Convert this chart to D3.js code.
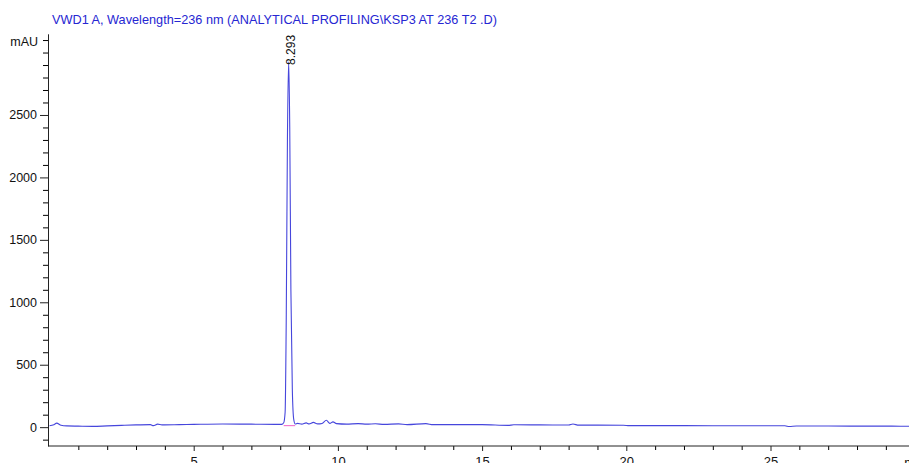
<!DOCTYPE html>
<html>
<head>
<meta charset="utf-8">
<title>VWD1 A chromatogram</title>
<script src="https://d3js.org/d3.v7.min.js"></script>
<style>
  body { margin: 0; background: #fff; }
  svg { display: block; font-family: "Liberation Sans", Arial, sans-serif; }
</style>
</head>
<body>
<div id="chart"></div>
<script>
  // retention time (min) and signal (mAU)
  const times = [0, 0.15, 0.25, 0.4, 0.6, 1.0, 1.5, 2.0, 2.5, 3.0, 3.5, 3.6, 3.75, 3.9, 4.5,
    5.0, 6.0, 7.0, 7.8, 8.05, 8.12, 8.17, 8.21, 8.25, 8.293, 8.33, 8.37, 8.42, 8.47, 8.52,
    8.6, 8.75, 8.9, 9.0, 9.15, 9.3, 9.45, 9.6, 9.72, 9.83, 9.95, 10.3, 10.7, 11.0, 11.3,
    11.6, 12.1, 12.4, 13.05, 13.3, 14.0, 15.0, 15.9, 16.1, 17.0, 18.0, 18.15, 18.35, 19.0,
    19.9, 20.1, 22.0, 24.0, 25.5, 25.65, 25.9, 27.0, 28.5, 29.2, 30.0];
  const signal = [12, 20, 32, 15, 10, 8, 6, 10, 14, 18, 20, 12, 24, 18, 20,
    22, 25, 24, 22, 22, 35, 120, 900, 2300, 2925, 2400, 1100, 300, 60, 25,
    30, 24, 34, 26, 38, 26, 30, 55, 30, 42, 28, 24, 28, 24, 27,
    22, 26, 20, 28, 20, 20, 20, 14, 19, 18, 17, 25, 16, 16,
    15, 12, 12, 11, 11, 5, 9, 9, 8, 8, 7];

  const peakTime = 8.293;
  const peakLabel = "8.293";
  const peakHeight = 2925;
  const integStart = 8.12, integEnd = 8.52, integLevel = 12;

  const xMajor = [5, 10, 15, 20, 25];
  const yMajor = [0, 500, 1000, 1500, 2000, 2500];

  const title = "VWD1 A, Wavelength=236 nm (ANALYTICAL PROFILING\\KSP3 AT 236 T2 .D)";

  const width = 909, height = 463;

  const x = d3.scaleLinear().domain([0, 30]).range([49.5, 914.7]);
  const y = d3.scaleLinear().domain([-150, 3150]).range([445.9, 33.8]);

  const svg = d3.select('#chart')
    .append('svg')
    .attr('width', width)
    .attr('height', height);

  svg.append('text')
    .attr('x', 52)
    .attr('y', 24)
    .attr('fill', '#2626d2')
    .attr('font-size', 12.7)
    .attr('textLength', 445)
    .text(title);

  /* y axis */
  const yMinor = d3.range(-100, 3150, 100).filter(v => v % 500 !== 0 || v === 3000);
  svg.append('g')
    .attr('transform', 'translate(48,0)')
    .call(d3.axisLeft(y).tickValues(yMinor).tickSize(5).tickFormat(''))
    .call(g => g.select('.domain').remove());

  const yAx = svg.append('g')
    .attr('transform', 'translate(48,0)')
    .call(d3.axisLeft(y).tickValues(yMajor).tickSize(8).tickPadding(3)
      .tickSizeOuter(0).tickFormat(d3.format('d')));
  yAx.selectAll('text').attr('font-size', 12.5).attr('fill', '#111').attr('font-family', null);
  yAx.select('.domain').attr('stroke', '#222');
  yAx.selectAll('.tick line').attr('stroke', '#222');

  svg.append('text')
    .attr('x', 38)
    .attr('y', 46)
    .attr('text-anchor', 'end')
    .attr('font-size', 12.5)
    .attr('fill', '#111')
    .text('mAU');

  /* x axis */
  const xMinor = d3.range(1, 30).filter(v => v % 5 !== 0);
  svg.append('g')
    .attr('transform', 'translate(0,446)')
    .call(d3.axisBottom(x).tickValues(xMinor).tickSize(4).tickFormat(''))
    .call(g => g.select('.domain').remove());

  const xAx = svg.append('g')
    .attr('transform', 'translate(0,446)')
    .call(d3.axisBottom(x).tickValues(xMajor).tickSize(5).tickPadding(6).tickSizeOuter(0));
  xAx.selectAll('text').attr('font-size', 13).attr('fill', '#111').attr('font-family', null);
  xAx.select('.domain').attr('d', `M48,0H${width}`).attr('stroke', '#222');
  xAx.selectAll('.tick line').attr('stroke', '#222');

  svg.append('text')
    .attr('x', x(30))
    .attr('y', 467)
    .attr('text-anchor', 'middle')
    .attr('font-size', 13)
    .attr('fill', '#111')
    .text('min');

  /* trace */
  const data = times.map((t, i) => ({ t: t, v: signal[i] }));

  const line = d3.line()
    .x(d => x(d.t))
    .y(d => y(d.v))
    .curve(d3.curveMonotoneX);

  svg.append('path')
    .datum(data)
    .attr('fill', 'none')
    .attr('stroke', '#4646dc')
    .attr('stroke-width', 1.1)
    .attr('d', line);

  // integration baseline
  svg.append('line')
    .attr('x1', x(integStart))
    .attr('x2', x(integEnd))
    .attr('y1', y(integLevel))
    .attr('y2', y(integLevel))
    .attr('stroke', '#f060c8')
    .attr('stroke-width', 1);

  // peak label
  svg.append('text')
    .attr('transform', `translate(${x(peakTime) + 6},${y(peakHeight) + 3}) rotate(-90)`)
    .attr('font-size', 12)
    .attr('fill', '#111')
    .text(peakLabel);
</script>
</body>
</html>
